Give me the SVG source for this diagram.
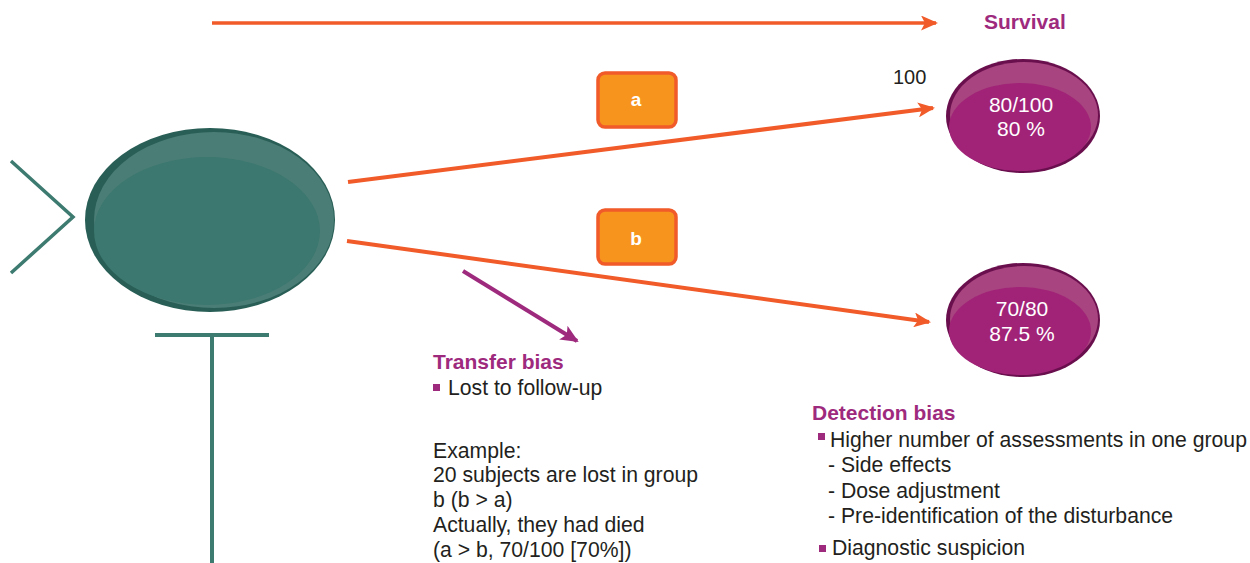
<svg xmlns="http://www.w3.org/2000/svg" width="1250" height="563" viewBox="0 0 1250 563">
<defs>
<style>
.t{font-family:"Liberation Sans",Arial,sans-serif;font-size:21.2px;fill:#231F20}
.b{font-family:"Liberation Sans",Arial,sans-serif;font-size:21px;font-weight:bold;fill:#9E2A7E}
.w{font-family:"Liberation Sans",Arial,sans-serif;font-size:21px;fill:#FFFFFF;text-anchor:middle}
.wb{font-family:"Liberation Sans",Arial,sans-serif;font-size:19px;font-weight:bold;fill:#FFFFFF;text-anchor:middle}
.or{stroke:#F15A29;fill:none;stroke-width:3.5}
.or2{stroke:#F15A29;fill:none;stroke-width:4}
.teal{stroke:#3D7A70;fill:none;stroke-width:3.5}
.box{fill:#F7941E;stroke:#F15A29;stroke-width:3.5}
.bul{fill:#9E2A7E}
</style>
<marker id="ah" markerUnits="userSpaceOnUse" markerWidth="17" markerHeight="15" viewBox="0 0 17 15" refX="15" refY="7.5" orient="auto">
<path d="M0,0 L17,7.5 L0,15 L4,7.5 Z" fill="#F15A29"/>
</marker>
<marker id="ahp" markerUnits="userSpaceOnUse" markerWidth="18" markerHeight="16" viewBox="0 0 18 16" refX="16" refY="8" orient="auto">
<path d="M0,0 L18,8 L0,16 L4,8 Z" fill="#9E2A7E"/>
</marker>
</defs>
<rect width="1250" height="563" fill="#FFFFFF"/>

<g id="fish-tail">
<polyline class="teal" points="11,161 73,217 11,273"/>
</g>
<g id="fish-body">
<ellipse cx="210" cy="220" rx="125" ry="92" fill="#285E55"/>
<ellipse cx="214" cy="220" rx="120" ry="88" fill="#4A7D76"/>
<ellipse cx="207" cy="231" rx="113" ry="74" fill="#3C786F"/>
</g>
<g id="stand">
<line x1="155" y1="335" x2="269" y2="335" stroke="#3D7A70" stroke-width="4"/>
<line x1="212" y1="335" x2="212" y2="563" stroke="#3D7A70" stroke-width="4"/>
</g>

<g id="connectors">
<line class="or" x1="212" y1="23" x2="936" y2="23" marker-end="url(#ah)"/>
<line class="or2" x1="348" y1="182" x2="933" y2="108" marker-end="url(#ah)"/>
<line class="or2" x1="347" y1="241" x2="929" y2="322" marker-end="url(#ah)"/>
<line x1="463" y1="271" x2="577" y2="341" stroke="#9E2A7E" stroke-width="4" marker-end="url(#ahp)"/>
</g>

<g id="survival-label">
<text class="b" x="984" y="29">Survival</text>
</g>
<g id="label-100">
<text class="t" x="893" y="84" style="font-size:20px">100</text>
</g>

<g id="box-a">
<rect class="box" x="598" y="73" width="78" height="54" rx="7"/>
<text class="wb" x="636" y="106">a</text>
</g>
<g id="box-b">
<rect class="box" x="598" y="210" width="78" height="54" rx="7"/>
<text class="wb" x="636" y="245">b</text>
</g>

<g id="result-a">
<ellipse cx="1023" cy="116" rx="77" ry="57" fill="#6A0F4E"/>
<ellipse cx="1024" cy="115" rx="74" ry="53" fill="#A8447F"/>
<ellipse cx="1020" cy="127" rx="71" ry="44" fill="#A12378"/>
<text class="w" x="1021" y="112">80/100</text>
<text class="w" x="1021" y="136">80 %</text>
</g>
<g id="result-b">
<ellipse cx="1023" cy="320" rx="77" ry="57" fill="#6A0F4E"/>
<ellipse cx="1024" cy="319" rx="74" ry="53" fill="#A8447F"/>
<ellipse cx="1020" cy="331" rx="71" ry="44" fill="#A12378"/>
<text class="w" x="1022" y="316">70/80</text>
<text class="w" x="1022" y="341">87.5 %</text>
</g>

<g id="transfer-bias">
<text class="b" x="433" y="369">Transfer bias</text>
<rect class="bul" x="433" y="384" width="7" height="7"/>
<text class="t" x="448" y="395">Lost to follow-up</text>
<text class="t" x="433" y="458">Example:</text>
<text class="t" x="433" y="482">20 subjects are lost in group</text>
<text class="t" x="433" y="507">b (b &gt; a)</text>
<text class="t" x="433" y="532">Actually, they had died</text>
<text class="t" x="433" y="557">(a &gt; b, 70/100 [70%])</text>
</g>

<g id="detection-bias">
<text class="b" x="812" y="420">Detection bias</text>
<rect class="bul" x="818" y="433" width="7" height="7"/>
<text class="t" x="830" y="447">Higher number of assessments in one group</text>
<text class="t" x="828" y="472">- Side effects</text>
<text class="t" x="828" y="498">- Dose adjustment</text>
<text class="t" x="828" y="523">- Pre-identification of the disturbance</text>
<rect class="bul" x="819" y="545" width="7" height="7"/>
<text class="t" x="832" y="555">Diagnostic suspicion</text>
</g>
</svg>
